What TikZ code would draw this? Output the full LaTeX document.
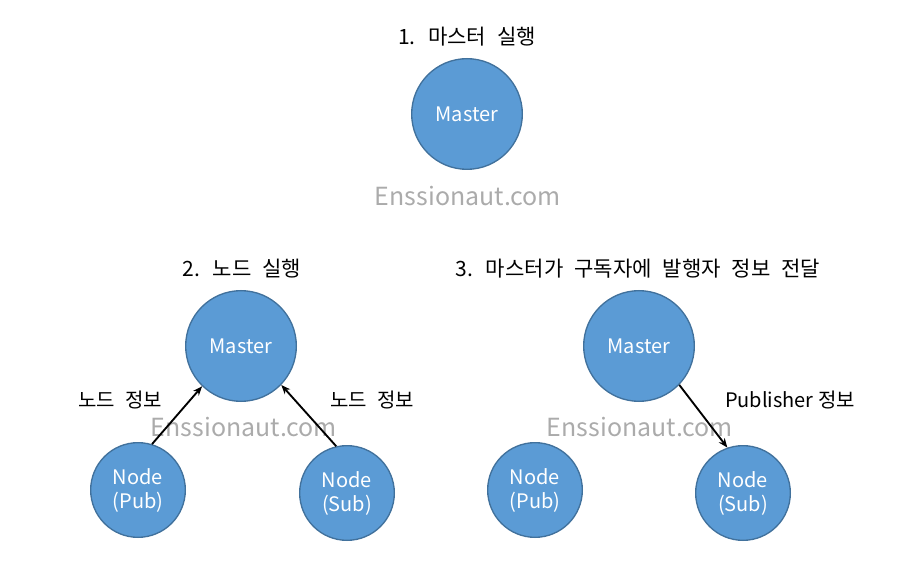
\documentclass[tikz,border=0pt]{standalone}
\usepackage{fontspec}
\setmainfont{Noto Sans CJK KR}
\newfontfamily\widekr[WordSpace=2.3]{Noto Sans CJK KR}
\usetikzlibrary{arrows.meta}
\definecolor{nodeblue}{HTML}{5B9BD5}
\definecolor{nodeedge}{HTML}{41719C}
\definecolor{markgray}{HTML}{ABABAB}
\tikzset{
	master/.style={circle, fill=nodeblue, draw=nodeedge, line width=1pt, minimum size=83pt, inner sep=0pt, text=white, font=\fontsize{15}{17}\selectfont},
	rosnode/.style={master, minimum size=71pt, align=center, font=\fontsize{15}{18}\selectfont},
	steptitle/.style={font=\widekr\fontsize{15.8}{18}\selectfont},
	info/.style={font=\widekr\fontsize{15}{17}\selectfont},
	watermark/.style={text=markgray, font=\fontsize{18.7}{22}\selectfont},
	msg/.style={-{Stealth[length=7pt,width=5.5pt]}, line width=1.4pt}
}
\begin{document}
\begin{tikzpicture}[x=0.75pt,y=-0.75pt]
		\useasboundingbox (0,0) rectangle (921,577);
		% 1. master
			\node [steptitle] (title1) at (467,37) {1. 마스터 실행};
			\node [master] (master1) at (467,114) {Master};
			\node [watermark] (mark1) at (468,196) {Enssionaut.com};
		% 2. nodes register
			\node [steptitle] (title2) at (242,269) {2. 노드 실행};
			\node [watermark] (mark2) at (244,427) {Enssionaut.com};
			\node [master] (master2) at (241,346) {Master};
			\node [rosnode] (pub2) at (138,490) {Node\\(Pub)};
			\node [rosnode] (sub2) at (347,493) {Node\\(Sub)};
			\node [info] (info2a) at (120,400) {노드 정보};
			\node [info] (info2b) at (372,400) {노드 정보};
			\draw [msg] (pub2.73) -- (master2.226);
			\draw [msg] (sub2.103) -- (master2.316);
		% 3. master tells subscriber
			\node [steptitle] (title3) at (638,269) {3. 마스터가 구독자에 발행자 정보 전달};
			\node [watermark] (mark3) at (640,427) {Enssionaut.com};
			\node [master] (master3) at (639,346) {Master};
			\node [rosnode] (pub3) at (535,490) {Node\\(Pub)};
			\node [rosnode] (sub3) at (743,493) {Node\\(Sub)};
			\node [font=\fontsize{15}{17}\selectfont] (info3) at (790,400) {Publisher 정보};
			\draw [msg] (master3.316) -- (sub3.109);
	\end{tikzpicture}
\end{document}
